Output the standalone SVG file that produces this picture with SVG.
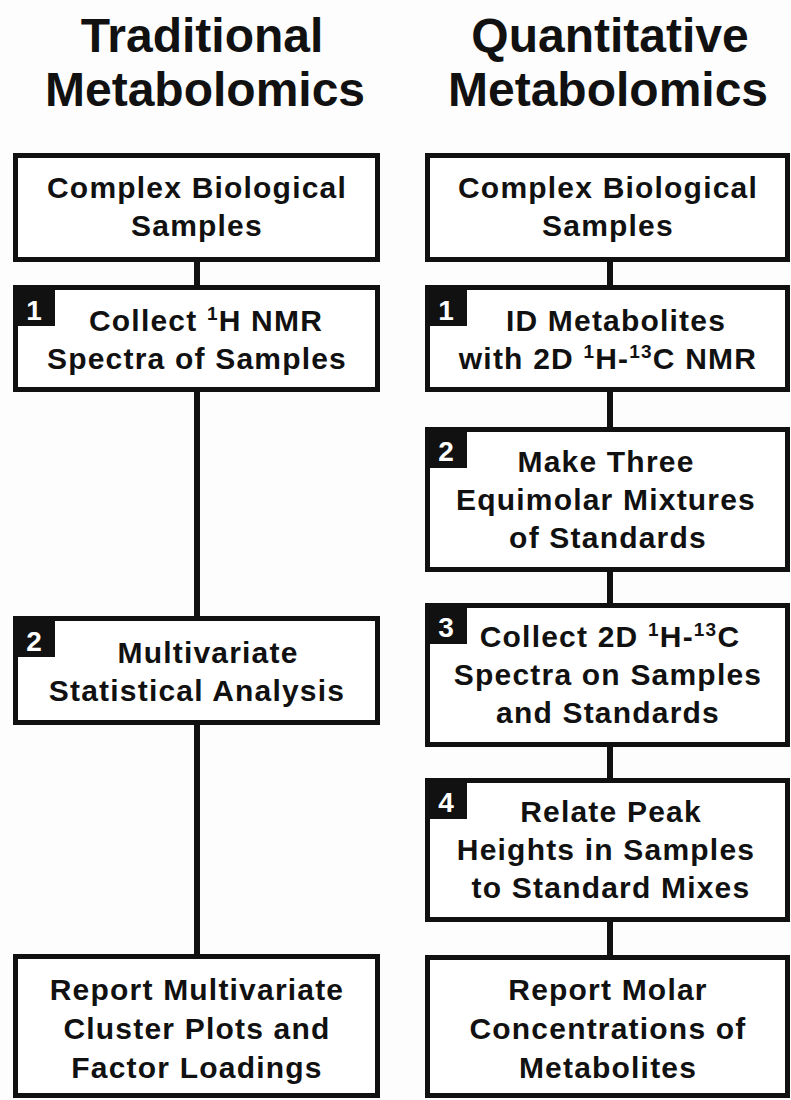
<svg xmlns="http://www.w3.org/2000/svg" width="791" height="1100" viewBox="0 0 791 1100">
<style>
.bg{fill:#fdfdfd}
.box{fill:#ffffff;stroke:#111;stroke-width:5}
.badge{fill:#111}
.num{font-family:"Liberation Sans",Arial,sans-serif;font-weight:bold;font-size:28px;fill:#fff;text-anchor:middle}
.t{font-family:"Liberation Sans",Arial,sans-serif;font-weight:bold;font-size:30px;fill:#111;text-anchor:middle;letter-spacing:1.2px}
.h{font-family:"Liberation Sans",Arial,sans-serif;font-weight:bold;font-size:48px;fill:#111;text-anchor:middle}
.sup{font-size:19px}
.conn{stroke:#111;stroke-width:6;fill:none}
</style>
<rect class="bg" x="0" y="0" width="791" height="1100"/>

<g id="titles">
<text class="h" x="202" y="52">Traditional</text>
<text class="h" x="205" y="106">Metabolomics</text>
<text class="h" x="610" y="52">Quantitative</text>
<text class="h" x="608" y="106">Metabolomics</text>
</g>

<g id="connectors">
<line class="conn" x1="197" y1="262" x2="197" y2="285"/>
<line class="conn" x1="197" y1="392" x2="197" y2="616"/>
<line class="conn" x1="197" y1="725" x2="197" y2="954"/>
<line class="conn" x1="610" y1="262" x2="610" y2="285"/>
<line class="conn" x1="610" y1="392" x2="610" y2="427"/>
<line class="conn" x1="610" y1="572" x2="610" y2="603"/>
<line class="conn" x1="610" y1="747" x2="610" y2="778"/>
<line class="conn" x1="610" y1="922" x2="610" y2="955"/>
</g>

<g id="L0">
<rect class="box" x="15.5" y="155.5" width="362" height="104"/>
<text class="t" x="197" y="198">Complex Biological</text>
<text class="t" x="197" y="236">Samples</text>
</g>

<g id="L1">
<rect class="box" x="15.5" y="287.5" width="362" height="102"/>
<rect class="badge" x="13" y="285" width="42" height="41"/>
<text class="num" x="34" y="320">1</text>
<text class="t" x="206" y="331">Collect <tspan class="sup" dy="-11">1</tspan><tspan dy="11">H NMR</tspan></text>
<text class="t" x="197" y="369">Spectra of Samples</text>
</g>

<g id="L2">
<rect class="box" x="15.5" y="618.5" width="362" height="104"/>
<rect class="badge" x="13" y="616" width="42" height="41"/>
<text class="num" x="34" y="651">2</text>
<text class="t" x="208" y="663">Multivariate</text>
<text class="t" x="197" y="701">Statistical Analysis</text>
</g>

<g id="L3">
<rect class="box" x="15.5" y="956.5" width="362" height="139"/>
<text class="t" x="197" y="1000">Report Multivariate</text>
<text class="t" x="197" y="1039">Cluster Plots and</text>
<text class="t" x="197" y="1078">Factor Loadings</text>
</g>

<g id="R0">
<rect class="box" x="427.5" y="155.5" width="360" height="104"/>
<text class="t" x="608" y="198">Complex Biological</text>
<text class="t" x="608" y="236">Samples</text>
</g>

<g id="R1">
<rect class="box" x="427.5" y="287.5" width="360" height="102"/>
<rect class="badge" x="425" y="285" width="42" height="41"/>
<text class="num" x="446" y="320">1</text>
<text class="t" x="616" y="331">ID Metabolites</text>
<text class="t" x="608" y="369">with 2D <tspan class="sup" dy="-11">1</tspan><tspan dy="11">H-</tspan><tspan class="sup" dy="-11">13</tspan><tspan dy="11">C NMR</tspan></text>
</g>

<g id="R2">
<rect class="box" x="427.5" y="429.5" width="360" height="140"/>
<rect class="badge" x="425" y="427" width="42" height="41"/>
<text class="num" x="446" y="461">2</text>
<text class="t" x="606" y="472">Make Three</text>
<text class="t" x="606" y="510">Equimolar Mixtures</text>
<text class="t" x="608" y="548">of Standards</text>
</g>

<g id="R3">
<rect class="box" x="427.5" y="605.5" width="360" height="139"/>
<rect class="badge" x="425" y="603" width="42" height="41"/>
<text class="num" x="446" y="637">3</text>
<text class="t" x="610" y="647">Collect 2D <tspan class="sup" dy="-11">1</tspan><tspan dy="11">H-</tspan><tspan class="sup" dy="-11">13</tspan><tspan dy="11">C</tspan></text>
<text class="t" x="608" y="685">Spectra on Samples</text>
<text class="t" x="608" y="723">and Standards</text>
</g>

<g id="R4">
<rect class="box" x="427.5" y="780.5" width="360" height="139"/>
<rect class="badge" x="425" y="778" width="42" height="41"/>
<text class="num" x="446" y="812">4</text>
<text class="t" x="611" y="822">Relate Peak</text>
<text class="t" x="606" y="860">Heights in Samples</text>
<text class="t" x="611" y="898">to Standard Mixes</text>
</g>

<g id="R5">
<rect class="box" x="427.5" y="957.5" width="360" height="138"/>
<text class="t" x="608" y="1000">Report Molar</text>
<text class="t" x="608" y="1039">Concentrations of</text>
<text class="t" x="608" y="1078">Metabolites</text>
</g>
</svg>
